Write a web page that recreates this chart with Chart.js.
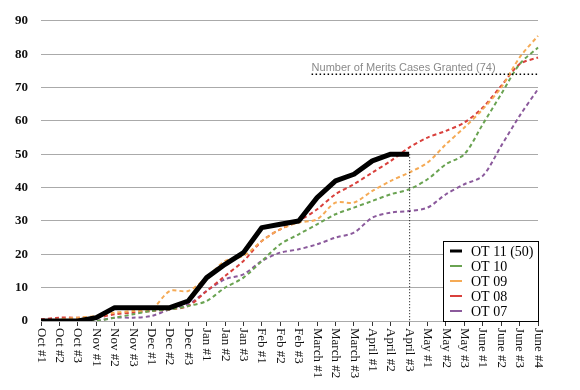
<!DOCTYPE html>
<html>
<head>
<meta charset="utf-8">
<script src="https://cdn.jsdelivr.net/npm/chart.js@4.4.1/dist/chart.umd.min.js"></script>
<style>
  html, body { margin: 0; padding: 0; background: #fff; }
  #wrap { width: 580px; height: 390px; }
</style>
</head>
<body>
<div id="wrap"><canvas id="chart-1"></canvas></div>
<script>
  // Données
  const weeks = ['Oct #1', 'Oct #2', 'Oct #3', 'Nov #1', 'Nov #2', 'Nov #3', 'Dec #1', 'Dec #2', 'Dec #3',
    'Jan #1', 'Jan #2', 'Jan #3', 'Feb #1', 'Feb #2', 'Feb #3', 'March #1', 'March #2', 'March #3',
    'April #1', 'April #2', 'April #3', 'May #1', 'May #2', 'May #3', 'June #1', 'June #2', 'June #3', 'June #4'];
  const ot11 = [0, 0, 0, 1, 4, 4, 4, 4, 6, 13, 17, 20.5, 28, 29, 30, 37, 42, 44, 48, 50, 50];
  const ot10 = [0, 0, 0, 0, 1, 2, 3, 3.5, 4.5, 6, 10, 13, 18, 23, 26, 29, 32, 34, 36, 38, 39.5, 42.5, 47, 50, 59, 68, 77, 82];
  const ot09 = [0, 0.5, 1, 1.5, 2.5, 3, 3.5, 9, 9, 13, 18, 19.5, 24, 27.5, 29.5, 30.5, 35.5, 35.5, 39, 42, 44.5, 47.5, 53, 58, 63.5, 70, 79, 85.5];
  const ot08 = [0.5, 1, 1, 1, 2, 2.5, 3, 3.5, 4.5, 9, 13.5, 18, 24, 27.5, 30, 33.5, 38, 41, 44.5, 48, 52, 55, 57, 59.5, 64, 70.5, 77, 79];
  const ot07 = [0, 0, 0, 0, 1, 1, 1.5, 3.5, 5, 9, 12.5, 14, 18, 20.5, 21.5, 23, 25, 26.5, 31, 32.5, 33, 34, 38, 41, 43.5, 52.5, 61.5, 69.5];
  const yTicks = [0, 10, 20, 30, 40, 50, 60, 70, 80, 90];
  const grantedCases = 74;
  const grantedLabel = 'Number of Merits Cases Granted (74)';

  const serif = '"Liberation Serif", "DejaVu Serif", serif';

  function dashed(label, data, color) {
    return {
      label: label,
      data: data,
      borderColor: color,
      backgroundColor: color,
      borderWidth: 2,
      borderDash: [4, 3],
      tension: 0.3,
      pointRadius: 0,
      fill: false
    };
  }

  // Étiquettes de l'axe X, tournées vers le bas
  const xLabels = {
    id: 'xLabels',
    afterDraw(chart) {
      const ctx = chart.ctx;
      const x = chart.scales.x;
      ctx.save();
      ctx.fillStyle = '#111';
      ctx.font = '13px ' + serif;
      ctx.textAlign = 'left';
      ctx.textBaseline = 'middle';
      weeks.forEach((w, i) => {
        ctx.save();
        ctx.translate(x.getPixelForTick(i), x.top + 7);
        ctx.rotate(Math.PI / 2);
        ctx.fillText(w, 0, 0);
        ctx.restore();
      });
      ctx.restore();
    }
  };

  // Ligne des 74 affaires et trait vertical en avril
  const notes = {
    id: 'notes',
    afterDatasetsDraw(chart) {
      const ctx = chart.ctx;
      const x = chart.scales.x;
      const y = chart.scales.y;
      const area = chart.chartArea;
      const yg = y.getPixelForValue(grantedCases);
      const xs = x.getPixelForValue(14.7);
      ctx.save();
      ctx.strokeStyle = '#000';
      ctx.lineWidth = 1.5;
      ctx.setLineDash([1.5, 2.5]);
      ctx.beginPath();
      ctx.moveTo(xs, yg);
      ctx.lineTo(area.right, yg);
      ctx.stroke();
      const xa = x.getPixelForValue(ot11.length - 1);
      ctx.lineWidth = 1;
      ctx.setLineDash([1, 2]);
      ctx.beginPath();
      ctx.moveTo(xa + 0.5, y.getPixelForValue(ot11[ot11.length - 1]));
      ctx.lineTo(xa + 0.5, y.getPixelForValue(0));
      ctx.stroke();
      ctx.setLineDash([]);
      ctx.fillStyle = '#8a8a8a';
      ctx.font = '11px "Liberation Sans", Arial, sans-serif';
      ctx.textAlign = 'left';
      ctx.textBaseline = 'alphabetic';
      ctx.fillText(grantedLabel, xs, yg - 3);
      ctx.restore();
    }
  };

  // Légende encadrée en bas à droite
  const boxLegend = {
    id: 'boxLegend',
    afterDraw(chart) {
      const ctx = chart.ctx;
      const area = chart.chartArea;
      const w = 95, h = 80;
      const left = area.right - w, top = area.bottom - h;
      ctx.save();
      ctx.fillStyle = '#fff';
      ctx.fillRect(left, top, w, h);
      ctx.strokeStyle = '#000';
      ctx.lineWidth = 1;
      ctx.strokeRect(left + 0.5, top + 0.5, w, h);
      ctx.font = '14px ' + serif;
      ctx.textBaseline = 'middle';
      ctx.textAlign = 'left';
      chart.data.datasets.forEach((ds, i) => {
        const yy = top + 10 + i * 15;
        ctx.strokeStyle = ds.borderColor;
        ctx.lineWidth = i === 0 ? 3 : 2;
        ctx.beginPath();
        ctx.moveTo(left + 7, yy);
        ctx.lineTo(left + 19, yy);
        ctx.stroke();
        ctx.fillStyle = '#000';
        ctx.fillText(ds.label, left + 28, yy + 1);
      });
      ctx.restore();
    }
  };

  const ctx = document.getElementById('chart-1');
  new Chart(ctx, {
    type: 'line',
    data: {
      labels: weeks,
      datasets: [
        {
          label: 'OT 11 (50)',
          data: ot11,
          borderColor: '#000',
          backgroundColor: '#000',
          borderWidth: 5,
          tension: 0,
          pointRadius: 0,
          borderJoinStyle: 'round',
          fill: false
        },
        dashed('OT 10', ot10, '#6aa352'),
        dashed('OT 09', ot09, '#f5aa55'),
        dashed('OT 08', ot08, '#d9403c'),
        dashed('OT 07', ot07, '#8b5a9c')
      ]
    },
    options: {
      responsive: true,
      maintainAspectRatio: false,
      animation: false,
      layout: { padding: { left: 0, right: 42, top: 17, bottom: 0 } },
      plugins: {
        legend: { display: false },
        tooltip: { enabled: false }
      },
      scales: {
        x: {
          offset: false,
          afterFit(scale) { scale.height = 69; },
          border: { display: false },
          grid: { drawOnChartArea: false, drawTicks: true, tickLength: 5, color: '#333' },
          ticks: { display: false, autoSkip: false }
        },
        y: {
          min: 0,
          max: 90,
          afterFit(scale) { scale.width = 41; },
          afterBuildTicks(scale) { scale.ticks = yTicks.map(v => ({ value: v })); },
          border: { display: false },
          grid: { color: '#aaa', drawTicks: false },
          ticks: {
            padding: 13,
            color: '#111',
            font: { family: serif, size: 13, weight: 'bold' }
          }
        }
      }
    },
    plugins: [xLabels, notes, boxLegend]
  });
</script>
</body>
</html>
